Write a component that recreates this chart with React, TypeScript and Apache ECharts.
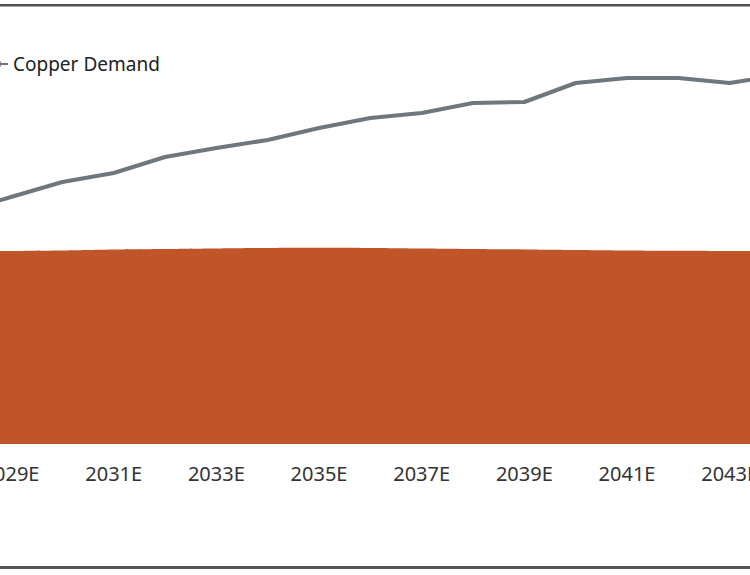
import React, { useEffect, useRef } from "react";
import * as echarts from "echarts";

const years = [
  "2028E", "2029E", "2030E", "2031E", "2032E", "2033E", "2034E", "2035E", "2036E",
  "2037E", "2038E", "2039E", "2040E", "2041E", "2042E", "2043E", "2044E",
];
const copperDemand = [
  23.2, 24.7, 26.2, 27.1, 28.7, 29.6, 30.4, 31.6, 32.6,
  33.1, 34.1, 34.2, 36.1, 36.6, 36.6, 36.1, 36.9,
];
const copperSupply = [
  19.25, 19.3, 19.35, 19.45, 19.5, 19.55, 19.6, 19.62, 19.6,
  19.55, 19.5, 19.45, 19.4, 19.35, 19.32, 19.3, 19.28,
];

export default function App() {
  const ref = useRef<HTMLDivElement>(null);
  useEffect(() => {
    if (!ref.current) return;
    const chart = echarts.init(ref.current, undefined, { renderer: "svg" });
    const font = "'Noto Sans', sans-serif";
    chart.setOption({
      animation: false,
      backgroundColor: "#ffffff",
      legend: {
        data: ["Copper Demand"],
        left: 42,
        top: 54,
        padding: 0,
        itemWidth: 25,
        itemHeight: 14,
        textStyle: { fontFamily: font, fontSize: 19, color: "#222222", lineHeight: 20 },
        lineStyle: { width: 2 },
      },
      grid: { left: 19.7, right: 59, top: 44, bottom: 131, containLabel: false },
      xAxis: {
        type: "category",
        data: years,
        boundaryGap: false,
        axisLine: { show: false },
        axisTick: { show: false },
        splitLine: { show: false },
        axisLabel: {
          interval: (_i: number, v: string) => Number(v.slice(0, 4)) % 2 === 1,
          fontFamily: font,
          fontSize: 20,
          color: "#333333",
          margin: 19,
        },
      },
      yAxis: {
        type: "value",
        min: 0,
        max: 40,
        show: false,
        splitLine: { show: false },
      },
      series: [
        {
          name: "Copper Supply",
          type: "line",
          data: copperSupply,
          smooth: true,
          symbol: "none",
          lineStyle: { width: 0, color: "#C0552A" },
          itemStyle: { color: "#C0552A" },
          areaStyle: { color: "#C0552A", opacity: 1 },
          z: 1,
        },
        {
          name: "Copper Demand",
          type: "line",
          data: copperDemand,
          symbol: "none",
          lineStyle: { width: 4, color: "#6E777C" },
          itemStyle: { color: "#6E777C" },
          z: 2,
        },
      ],
      graphic: [
        { type: "rect", shape: { x: 60, y: 4, width: 750, height: 2.5 }, style: { fill: "#4f4f4f" } },
        { type: "rect", shape: { x: 60, y: 566, width: 750, height: 3 }, style: { fill: "#555555" } },
      ],
    });
    return () => chart.dispose();
  }, []);
  return (
    <div style={{ position: "fixed", left: 0, top: 0, width: 750, height: 575, overflow: "hidden", background: "#fff" }}>
      <div ref={ref} style={{ position: "absolute", left: -60, top: 0, width: 900, height: 575 }} />
    </div>
  );
}
